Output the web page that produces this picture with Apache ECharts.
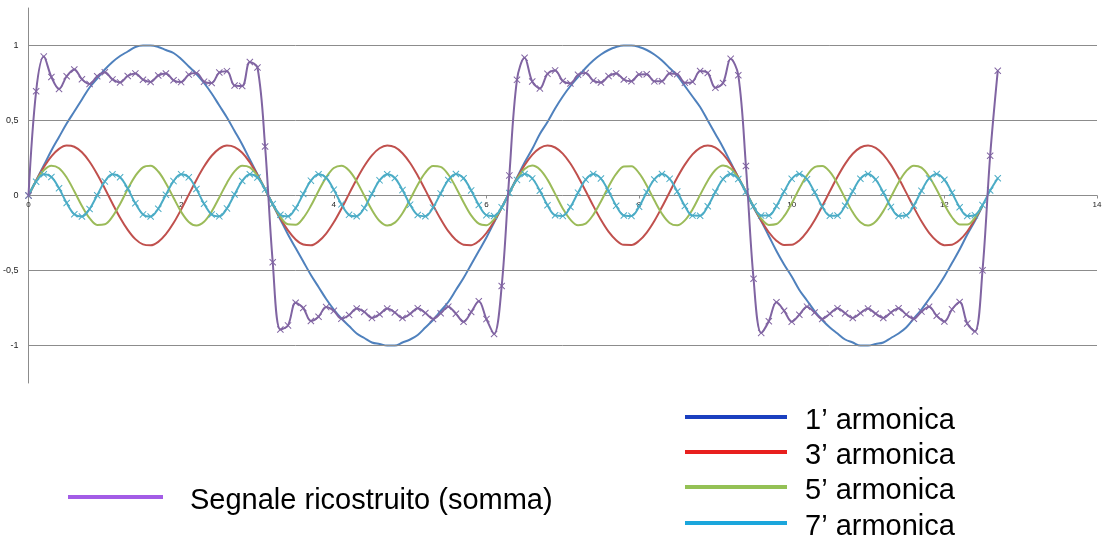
<!DOCTYPE html>
<html><head><meta charset="utf-8">
<script src="https://cdn.jsdelivr.net/npm/echarts@6/dist/echarts.min.js"></script>
<style>html,body{margin:0;padding:0;background:#fff}#c{width:1106px;height:554px}</style>
</head><body><div id="c"></div>
<script>
const xTicks = [0,2,4,6,8,10,12,14];
const yTicks = [-1,-0.5,0,0.5,1];
const seriesNames = ["1’ armonica","3’ armonica","5’ armonica","7’ armonica","Segnale ricostruito (somma)"];
const xs = Array.from({length:128},(_, i)=>+(i*0.1).toFixed(1));

const h1 = [0,.10,.20,.30,.39,.48,.56,.64,.72,.78,.84,.89,.93,.96,.99,1.00,1.00,.99,.97,.95,.91,.86,.81,.75,.68,.60,.52,.43,.34,.24,.14,.04,-.06,-.16,-.26,-.35,-.44,-.53,-.61,-.69,-.76,-.82,-.87,-.92,-.95,-.98,-.99,-1.00,-1.00,-.98,-.96,-.93,-.88,-.83,-.77,-.71,-.63,-.55,-.46,-.37,-.28,-.18,-.08,
.02,.12,.22,.31,.41,.49,.58,.66,.73,.79,.85,.90,.94,.97,.99,1.00,1.00,.99,.97,.94,.90,.85,.80,.73,.66,.59,.50,.41,.32,.22,.12,.02,-.08,-.17,-.27,-.37,-.46,-.54,-.63,-.70,-.77,-.83,-.88,-.92,-.96,-.98,-1.00,-1.00,-.99,-.98,-.95,-.92,-.88,-.82,-.76,-.69,-.62,-.54,-.45,-.36,-.26,-.17,-.07];

const h3 = [0,.099,.188,.261,.311,.333,.325,.288,.225,.142,.047,-.053,-.148,-.229,-.291,-.326,-.332,-.309,-.258,-.184,-.093,.006,.104,.193,.265,.313,.333,.323,.285,.221,.137,.042,-.058,-.152,-.233,-.293,-.327,-.332,-.306,-.254,-.179,-.088,.011,.109,.197,.268,.315,.333,.322,.282,.217,.132,.036,-.064,-.157,-.238,-.296,-.328,-.331,-.304,-.250,-.174,-.082,.017,.114,.202,.271,.316,.333,.320,.279,.213,.127,.030,-.069,-.162,-.241,-.298,-.329,-.330,-.302,-.247,-.170,-.077,.022,.120,.206,.274,.318,.333,.319,.276,.208,.122,.025,-.075,-.167,-.245,-.301,-.330,-.329,-.300,-.243,-.165,-.071,.028,.125,.211,.278,.320,.333,.317,.273,.204,.116,.019,-.080,-.172,-.249,-.303,-.331,-.328,-.297,-.240,-.160,-.066];

const h5 = [0,.096,.168,.199,.182,.120,.028,-.070,-.151,-.196,-.192,-.141,-.056,.043,.131,.188,.198,.160,.082,-.015,-.109,-.176,-.200,-.175,-.107,-.013,.084,.161,.198,.187,.130,.041,-.058,-.143,-.192,-.195,-.150,-.069,.030,.121,.183,.199,.167,.094,-.002,-.097,-.170,-.200,-.181,-.118,-.026,.072,.152,.196,.191,.140,.054,-.045,-.133,-.188,-.198,-.159,-.081,.017,.110,.177,.200,.174,.106,.011,-.086,-.161,-.198,-.187,-.129,-.040,.059,.144,.193,.195,.149,.067,-.032,-.122,-.183,-.199,-.166,-.093,.004,.099,.170,.200,.180,.117,.025,-.073,-.154,-.196,-.190,-.138,-.052,.046,.134,.189,.197,.157,.079,-.019,-.112,-.178,-.200,-.173,-.104,-.010,.087,.163,.199,.186,.127,.038,-.061,-.145,-.193,-.194,-.148,-.065];

const h7 = [0,.092,.141,.123,.048,-.050,-.125,-.140,-.090,
.002,.094,.141,.122,.046,-.052,-.126,-.140,-.088,
.005,.096,.141,.121,.043,-.055,-.127,-.139,-.086,
.007,.097,.142,.120,.041,-.057,-.128,-.139,-.084,
.010,.099,.142,.118,.039,-.059,-.129,-.138,-.083,
.012,.101,.142,.117,.036,-.061,-.130,-.138,-.081,
.014,.103,.143,.115,.034,-.063,-.131,-.137,-.079,
.017,.104,.143,.114,.032,-.065,-.132,-.136,-.077,
.019,.106,.143,.113,.029,-.068,-.133,-.136,-.075,
.022,.107,.143,.111,.027,-.070,-.134,-.135,-.072,
.024,.109,.143,.110,.025,-.072,-.134,-.134,-.070,
.026,.111,.143,.108,.022,-.074,-.135,-.133,-.068,
.029,.112,.143,.106,.020,-.076,-.136,-.132,-.066,
.031,.114,.143,.105,.018,-.078,-.137,-.131,-.064,
.033,.115];

const somma = [0,.695,.926,.79,.71,.795,.840,.775,.743,.795,.821,.774,.754,.797,.814,.772,.757,.800,.813,.768,.756,.806,.816,.759,.750,.820,.829,.733,.73,.890,.853,.327,
-.445,-.893,-.866,-.715,-.750,-.837,-.808,-.744,-.769,-.821,-.797,-.753,-.776,-.816,-.792,-.754,-.780,-.817,-.789,-.751,-.783,-.823,-.785,-.741,-.788,-.842,-.777,-.705,-.824,-.923,-.603,
.134,.771,.918,.76,.714,.811,.834,.763,.747,.805,.816,.766,.753,.796,.814,.773,.762,.807,.808,.761,.762,.813,.809,.751,.758,.830,.817,.719,.75,.911,.802,.197,
-.555,-.916,-.838,-.712,-.768,-.841,-.795,-.741,-.780,-.823,-.788,-.751,-.785,-.817,-.784,-.754,-.788,-.817,-.780,-.752,-.793,-.822,-.774,-.742,-.802,-.840,-.759,-.71,-.853,-.906,-.499,
.265,.832];

const colors = ['#4F81BD','#C0504D','#9BBB59','#4BACC6','#8064A2'];
const legendColors = ['#1A3FBF','#E8201E','#94C155','#1BA6DC','#A35CE6'];
const xMark = 'path://M1,0L5,4L9,0L10,1L6,5L10,9L9,10L5,6L1,10L0,9L4,5L0,1Z';
const pairs = a => a.map((v,i)=>[xs[i],v]);
const fmt = v => String(v).replace('.',',');

const chart = echarts.init(document.getElementById('c'));
const arrs=[h1,h3,h5,h7,somma];
const series = arrs.map((a,i)=>({
  name: seriesNames[i], type:'line', data:pairs(a), smooth:0.35,
  lineStyle:{color:colors[i], width:2}, itemStyle:{color:colors[i]},
  showSymbol: i>=3, symbol:xMark, symbolSize:7, z: i===4?5:3, animation:false
}));
series[0].markLine = {silent:true, symbol:'none', label:{show:false}, animation:false,
  lineStyle:{color:'#8c8c8c', width:1, type:'solid'},
  data: yTicks.filter(v=>v!==0).map(v=>({yAxis:v}))};
series[0].z = 2;

const legendItems = [
  {name:seriesNames[0], c:legendColors[0], x1:685, x2:787, y:417, tx:805},
  {name:seriesNames[1], c:legendColors[1], x1:685, x2:787, y:452, tx:805},
  {name:seriesNames[2], c:legendColors[2], x1:685, x2:787, y:487, tx:805},
  {name:seriesNames[3], c:legendColors[3], x1:685, x2:787, y:523, tx:805},
  {name:seriesNames[4], c:legendColors[4], x1:68, x2:163, y:497, tx:190}
];
const graphic = [];
legendItems.forEach(l=>{
  graphic.push({type:'line', shape:{x1:l.x1,y1:l.y,x2:l.x2,y2:l.y}, style:{stroke:l.c, lineWidth:4}});
  graphic.push({type:'text', x:l.tx, y:l.y+4, style:{text:l.name, fill:'#000', font:'29px "Liberation Sans", Arial', verticalAlign:'middle'}});
});

chart.setOption({
  animation:false,
  backgroundColor:'#fff',
  grid:{left:28, right:9, top:8, bottom:171},
  xAxis:{type:'value', min:xTicks[0], max:xTicks[xTicks.length-1], interval:2,
    axisLine:{onZero:false, lineStyle:{color:'#8c8c8c'}}, offset:-187.5,
    axisTick:{show:true, length:3, lineStyle:{color:'#8c8c8c'}},
    axisLabel:{fontSize:8, color:'#222', margin:5, formatter:v=>fmt(v)}, splitLine:{show:false}},
  yAxis:{type:'value', min:-1.25, max:1.25, interval:0.25,
    axisLine:{show:true, lineStyle:{color:'#8c8c8c'}}, axisTick:{show:false},
    axisLabel:{fontSize:9, color:'#222', margin:10, formatter:v=> yTicks.includes(v)?fmt(v):''},
    splitLine:{show:false}},
  series, graphic
});
</script></body></html>
